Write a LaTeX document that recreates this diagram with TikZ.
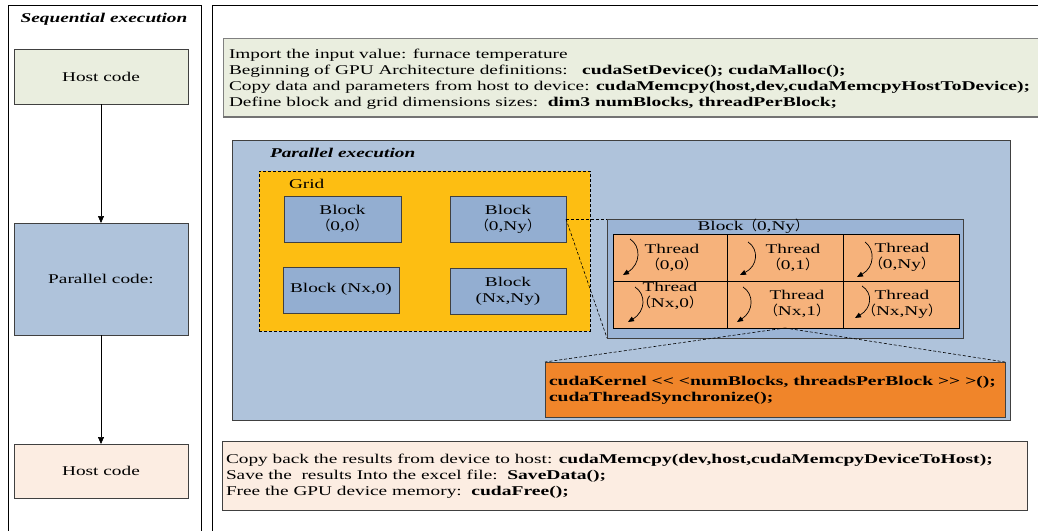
\documentclass[tikz,border=0pt]{standalone}
\usepackage{fontspec}
\setmainfont{Liberation Serif}[FakeStretch=1.44, BoldFeatures={FakeStretch=1.46}]
\newfontfamily\cjk{Noto Sans CJK SC}
\newcommand\flp{{\cjk （}}
\newcommand\frp{{\cjk ）}}
\usetikzlibrary{arrows.meta}
\definecolor{hostgreen}{HTML}{EAEEDF}
\definecolor{parblue}{HTML}{AFC3DB}
\definecolor{hostpeach}{HTML}{FCEDE2}
\definecolor{gridgold}{HTML}{FDBE12}
\definecolor{blockblue}{HTML}{93AED1}
\definecolor{bexpblue}{HTML}{9BB4D5}
\definecolor{threadorange}{HTML}{F6B27B}
\definecolor{kernorange}{HTML}{F0852A}
\definecolor{framegray}{HTML}{404040}
\tikzset{
  box/.style={draw=framegray, line width=0.7pt, inner sep=0pt, outer sep=0pt, anchor=center},
  txt/.style={inner sep=0pt, outer sep=0pt, align=left, anchor=west},
  ctxt/.style={inner sep=0pt, outer sep=0pt, align=center},
  arr/.style={-{Triangle[length=7pt,width=6pt]}, line width=0.6pt},
  tarr/.style={-{Triangle[length=6pt,width=5pt]}, line width=0.7pt},
  dashline/.style={densely dashed, line width=0.6pt},
  cell/.style={draw=black, line width=0.7pt, fill=threadorange, inner sep=0pt, outer sep=0pt,
    minimum height=47pt},
}
\begin{document}
\begin{tikzpicture}[x=1pt,y=-1pt,font=\fontsize{13.4}{16}\selectfont]
\useasboundingbox (0,0) rectangle (1038,530);
\clip (0,0) rectangle (1038,530);
\fill[white] (0,0) rectangle (1038,530);
% panel frames
\draw[line width=0.7pt] (8,5) rectangle (201,545);
\draw[line width=0.7pt] (212,5) rectangle (1050,545);
% left panel
\node[ctxt] (seqlbl) at (104,19) {\textbf{\textit{Sequential execution}}};
\node[box, fill=hostgreen, minimum width=174pt, minimum height=55pt] (host1) at (101,76.5) {Host code};
\node[box, fill=parblue, minimum width=174pt, minimum height=112pt] (par) at (101,279) {Parallel code:};
\node[box, fill=hostpeach, minimum width=174pt, minimum height=54pt] (host2) at (101,471) {Host code};
\draw[arr] (host1) -- (par);
\draw[arr] (par) -- (host2);
% top code box
\node[draw=gray, line width=0.8pt, fill=hostgreen, inner sep=0pt, outer sep=0pt,
  minimum width=822pt, minimum height=79pt] (topbox) at (634,77.5) {};
\draw[gray!90!black, line width=1.8pt] (topbox.south west) -- (topbox.south east);
\node[txt] (toptext) at (229,79) {Import the input value: furnace temperature\\
Beginning of GPU Architecture definitions:\ \ \ \textbf{cudaSetDevice(); cudaMalloc();}\\
Copy data and parameters from host to device: \textbf{cudaMemcpy(host,dev,cudaMemcpyHostToDevice);}\\
Define block and grid dimensions sizes:\ \ \textbf{dim3 numBlocks, threadPerBlock;}};
% parallel execution
\node[box, fill=parblue, line width=0.9pt, minimum width=778pt, minimum height=280pt] (parexec) at (621,280) {};
\node[txt] (parlbl) at (270,153) {\textbf{\textit{Parallel execution}}};
\node[draw=black, densely dashed, line width=0.6pt, fill=gridgold, inner sep=0pt, outer sep=0pt,
  minimum width=331pt, minimum height=160pt] (grid) at (424.5,251) {};
\node[txt] (gridlbl) at (289,184) {Grid};
\node[box, fill=blockblue, minimum width=117pt, minimum height=46pt, align=center] (b00) at (342.5,219) {Block\\\flp 0,0\frp};
\node[box, fill=blockblue, minimum width=116pt, minimum height=46pt, align=center] (b0N) at (508,219) {Block\\\flp 0,Ny\frp};
\node[box, fill=blockblue, minimum width=116pt, minimum height=46pt, align=center] (bN0) at (341,290) {\raisebox{4pt}{Block (Nx,0)}};
\node[box, fill=blockblue, minimum width=116pt, minimum height=46pt, align=center] (bNN) at (508,291) {Block\\(Nx,Ny)};
% expanded block
\node[box, fill=bexpblue, minimum width=356pt, minimum height=119pt] (bexp) at (785,278.5) {};
\node[ctxt] (bexplbl) at (753,226) {Block\flp 0,Ny\frp};
\node[cell, minimum width=114pt] (t00) at (670,257.5) {};
\node[cell, minimum width=116pt] (t01) at (785,257.5) {};
\node[cell, minimum width=116pt] (t0N) at (901,257.5) {};
\node[cell, minimum width=114pt] (tN0) at (670,304.5) {};
\node[cell, minimum width=116pt] (tN1) at (785,304.5) {};
\node[cell, minimum width=116pt] (tNN) at (901,304.5) {};
\node[ctxt] (l00) at (672,257.5) {Thread\\\flp 0,0\frp};
\node[ctxt] (l01) at (793,257.5) {Thread\\\flp 0,1\frp};
\node[ctxt] (l0N) at (902,257.5) {Thread\\\flp 0,Ny\frp};
\node[ctxt] (lN0) at (670,296) {Thread\\\flp Nx,0\frp};
\node[ctxt] (lN1) at (797,304) {Thread\\\flp Nx,1\frp};
\node[ctxt] (lNN) at (902,304) {Thread\\\flp Nx,Ny\frp};
\draw[tarr, shift={(t00.north west)}] (17,5) .. controls (28,12) and (28,30) .. (10,41);
\draw[tarr, shift={(t01.north west)}] (21,8) .. controls (32,15) and (31,32) .. (13,41);
\draw[tarr, shift={(t0N.north west)}] (22,8) .. controls (32,15) and (32,33) .. (14,43);
\draw[tarr, shift={(tN0.north west)}] (22,6) .. controls (33,13) and (33,30) .. (15,41);
\draw[tarr, shift={(tN1.north west)}] (16,6) .. controls (27,13) and (27,30) .. (10,41);
\draw[tarr, shift={(tNN.north west)}] (19,5) .. controls (30,12) and (29,27) .. (12,37);
% dashed zoom lines
\draw[dashline] (b0N.east) -- (bexp.north west);
\draw[dashline] (b0N.east) -- (bexp.south west);
% kernel box
\node[box, fill=kernorange, minimum width=460pt, minimum height=55pt] (kern) at (775,389.5) {};
\draw[dashline] (tN1.south) -- (kern.north west);
\draw[dashline] (tN1.south) -- (kern.north east);
\node[txt] (kerntext) at (549,390) {\textbf{cudaKernel <\kern0pt< <numBlocks, threadsPerBlock >\kern0pt> >();}\\
\textbf{cudaThreadSynchronize();}};
% bottom host box
\node[box, fill=hostpeach, minimum width=805pt, minimum height=69pt] (botbox) at (624.5,475.5) {};
\node[txt] (bottext) at (226,476) {Copy back the results from device to host: \textbf{cudaMemcpy(dev,host,cudaMemcpyDeviceToHost);}\\
Save the\ \ results Into the excel file:\ \ \textbf{SaveData();}\\
Free the GPU device memory:\ \ \textbf{cudaFree();}};
\end{tikzpicture}
\end{document}
